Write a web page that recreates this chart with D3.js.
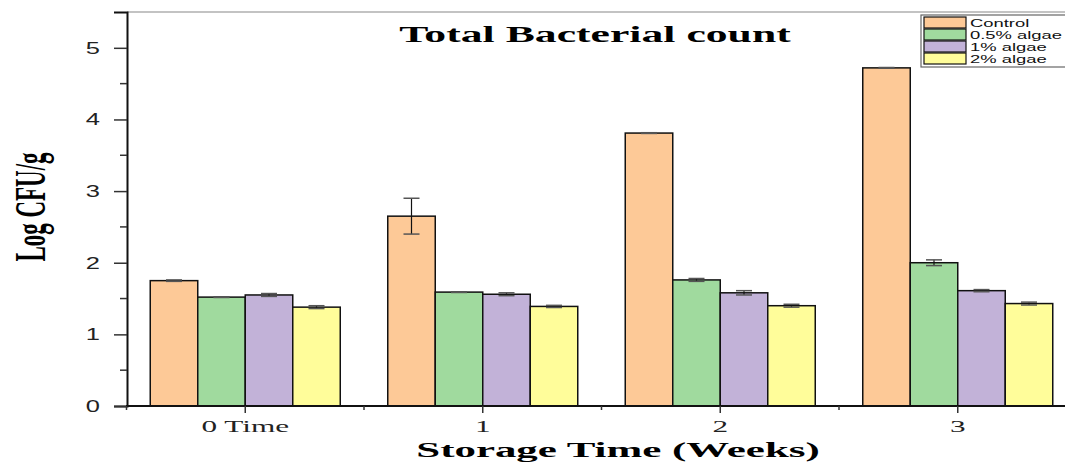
<!DOCTYPE html>
<html><head><meta charset="utf-8">
<script src="https://cdn.jsdelivr.net/npm/d3@7"></script>
<style>body{margin:0;background:#fff}svg{display:block}</style>
</head><body>
<svg id="c" width="1065" height="462"></svg>
<script>
const categories = ["0 Time", "1", "2", "3"];
const seriesNames = ["Control", "0.5% algae", "1% algae", "2% algae"];
const control = [1.75, 2.65, 3.81, 4.72];
const algae05 = [1.52, 1.59, 1.76, 2.00];
const algae1 = [1.55, 1.56, 1.58, 1.61];
const algae2 = [1.38, 1.39, 1.40, 1.43];
const errControl = [0.01, 0.25, 0.005, 0.005];
const errAlgae05 = [0.005, 0.005, 0.02, 0.04];
const errAlgae1 = [0.02, 0.02, 0.03, 0.015];
const errAlgae2 = [0.02, 0.015, 0.02, 0.02];
const yTicks = [0, 1, 2, 3, 4, 5];
const colors = ["#FDC997", "#A0DA9E", "#C2B2D8", "#FFFD9A"];

const values = [control, algae05, algae1, algae2];
const errs = [errControl, errAlgae05, errAlgae1, errAlgae2];
const SERIF = "Liberation Serif, Times New Roman, serif";
const SANS = "Liberation Sans, Arial, sans-serif";

const svg = d3.select("#c");
const x0 = d3.scaleBand().domain(categories).range([126.5, 1076.5]).paddingInner(0.2).paddingOuter(0.1);
const x1 = d3.scaleBand().domain(seriesNames).range([0, x0.bandwidth()]);
const y = d3.scaleLinear().domain([0, 5.5]).range([406, 12]);

// top frame line
svg.append("line").attr("x1", 127).attr("x2", 1065).attr("y1", 12).attr("y2", 12)
  .attr("stroke", "#888").attr("stroke-width", 1.2);

// bars
const groups = svg.append("g").selectAll("g").data(categories).join("g")
  .attr("transform", d => `translate(${x0(d)},0)`);
groups.each(function(cat, ci) {
  const g = d3.select(this);
  seriesNames.forEach((s, si) => {
    const v = values[si][ci], e = errs[si][ci];
    const bx = x1(s), bw = x1.bandwidth();
    g.append("rect").attr("x", bx).attr("y", y(v)).attr("width", bw).attr("height", y(0) - y(v))
      .attr("fill", colors[si]).attr("stroke", "#111").attr("stroke-width", 1.5);
    const cx = bx + bw / 2;
    g.append("line").attr("x1", cx).attr("x2", cx).attr("y1", y(v + e)).attr("y2", y(v - e))
      .attr("stroke", "#111").attr("stroke-width", 1.2);
    [v + e, v - e].forEach(yy => {
      g.append("line").attr("x1", cx - 8).attr("x2", cx + 8).attr("y1", y(yy)).attr("y2", y(yy))
        .attr("stroke", "#555").attr("stroke-width", 1.5);
    });
  });
});

// y axis
const yAxis = d3.axisLeft(y).tickValues(yTicks).tickSize(13).tickFormat(d3.format("d"));
const yg = svg.append("g").attr("transform", "translate(127,0)").call(yAxis);
yg.select(".domain").attr("stroke", "#111").attr("stroke-width", 2);
yg.selectAll(".tick line").attr("stroke", "#333").attr("stroke-width", 1.5);
yg.selectAll(".tick text").attr("font-family", SANS).attr("font-size", 17).attr("fill", "#222")
  .attr("x", -18).attr("transform", "scale(1.5,1)");
const yMinor = d3.range(0.5, 5.5, 1);
yg.selectAll(".minor").data(yMinor).join("line").attr("class", "minor")
  .attr("x1", -7).attr("x2", 0).attr("y1", d => y(d)).attr("y2", d => y(d))
  .attr("stroke", "#333").attr("stroke-width", 1.5);

// x axis
const xAxis = d3.axisBottom(x0).tickSize(7).tickSizeOuter(0);
const xg = svg.append("g").attr("transform", "translate(0,406)").call(xAxis);
xg.select(".domain").attr("stroke", "#111").attr("stroke-width", 2).attr("d", "M126,0H1076");
xg.selectAll(".tick line").attr("stroke", "#333").attr("stroke-width", 1.5);
xg.selectAll(".tick text").attr("font-family", SERIF).attr("font-size", 16).attr("fill", "#222")
  .attr("dy", "1.0em").attr("transform", "scale(1.95,1)");
const step = x0.step();
const xMinor = categories.map(c => x0(c) + x0.bandwidth() / 2 - step / 2);
xg.selectAll(".minor").data(xMinor).join("line").attr("class", "minor")
  .attr("x1", d => d).attr("x2", d => d).attr("y1", 0).attr("y2", 4)
  .attr("stroke", "#333").attr("stroke-width", 1.5);

// title & labels
svg.append("text").attr("transform", "translate(595,42) scale(1.9,1)").attr("text-anchor", "middle")
  .attr("font-family", SERIF).attr("font-weight", "bold").attr("font-size", 23)
  .text("Total Bacterial count");
svg.append("text").attr("transform", "translate(45,207) rotate(-90) scale(1,1.9)").attr("text-anchor", "middle")
  .attr("font-family", SERIF).attr("font-weight", "bold").attr("font-size", 23)
  .text("Log CFU/g");
svg.append("text").attr("transform", "translate(618,457) scale(1.95,1)").attr("text-anchor", "middle")
  .attr("font-family", SERIF).attr("font-weight", "bold").attr("font-size", 22)
  .text("Storage Time (Weeks)");

// legend
const lg = svg.append("g").attr("transform", "translate(921,15)");
lg.append("rect").attr("x", 0).attr("y", 0).attr("width", 150).attr("height", 52)
  .attr("fill", "#fff").attr("stroke", "#666").attr("stroke-width", 1.2);
seriesNames.forEach((s, i) => {
  lg.append("rect").attr("x", 3).attr("y", 2 + i * 12).attr("width", 42).attr("height", 11)
    .attr("fill", colors[i]).attr("stroke", "#111").attr("stroke-width", 1.2);
  lg.append("text").attr("transform", `translate(49,${11.5 + i * 12}) scale(1.6,1)`)
    .attr("font-family", SANS).attr("font-size", 11.5).attr("fill", "#111").text(s);
});
</script>
</body></html>
